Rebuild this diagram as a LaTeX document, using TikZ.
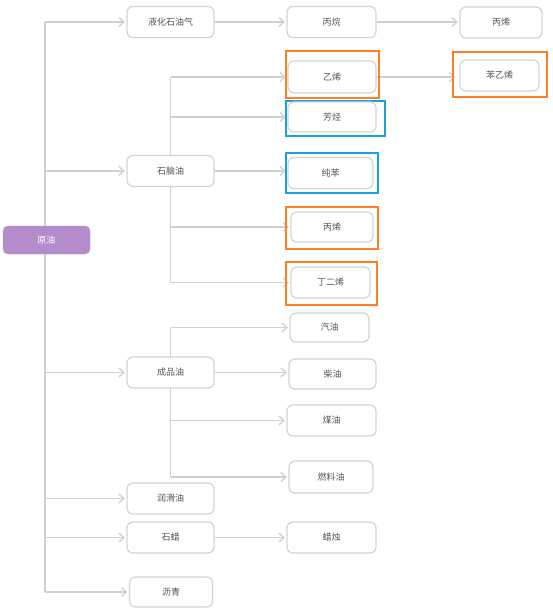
\documentclass[tikz,border=0pt]{standalone}
\usepackage{fontspec}
\newfontfamily\cjk{Noto Sans CJK SC}
\usetikzlibrary{arrows.meta}
\pgfdeclarelayer{bg}
\pgfsetlayers{bg,main}
\definecolor{boxgray}{HTML}{D4D4D4}
\definecolor{linegray}{HTML}{D0D0D0}
\definecolor{txtgray}{HTML}{555555}
\definecolor{oilpurple}{HTML}{B48BCB}
\definecolor{frameorange}{HTML}{FF7F27}
\definecolor{frameblue}{HTML}{1BA1E2}
\tikzset{
  box/.style={draw=boxgray, line width=1.2pt, rounded corners=6pt, fill=white,
    text=txtgray, font=\cjk\fontsize{9}{10}\selectfont, inner sep=0pt},
  rootbox/.style={fill=oilpurple, draw=oilpurple, rounded corners=5pt, text=white,
    font=\cjk\fontsize{9}{10}\selectfont, inner sep=0pt},
  frameO/.style={draw=frameorange, line width=2pt, inner sep=0pt},
  frameB/.style={draw=frameblue, line width=2pt, inner sep=0pt},
  trunkline/.style={draw=linegray, line width=2pt},
  branch/.style={draw=linegray, line width=1.3pt},
  arr/.style={draw=linegray, line width=1.3pt,
    -{Straight Barb[length=5pt,width=9pt]}, shorten >=1.5pt},
}
\begin{document}
\begin{tikzpicture}[x=1pt,y=-1pt]
\useasboundingbox (0,0) rectangle (553,611);
% frames
\node[frameO, minimum width=93pt, minimum height=47pt] (fEthylene) at (332.5,74.5) {};
\node[frameB, minimum width=99pt, minimum height=35pt] (fAromatics) at (335.5,118) {};
\node[frameB, minimum width=92pt, minimum height=40pt] (fBenzene) at (332,173) {};
\node[frameO, minimum width=92pt, minimum height=42pt] (fPropylene) at (332,228) {};
\node[frameO, minimum width=91pt, minimum height=43pt] (fButadiene) at (331.5,283.5) {};
\node[frameO, minimum width=94pt, minimum height=45pt] (fStyrene) at (500,74.5) {};
% root
\node[rootbox, minimum width=87pt, minimum height=28pt] (crude) at (46.5,240) {原油};
% level 1
\node[box, minimum width=87pt, minimum height=31pt] (lpg) at (170.5,22) {液化石油气};
\node[box, minimum width=87pt, minimum height=31pt] (naphtha) at (170.5,171) {石脑油};
\node[box, minimum width=87pt, minimum height=31pt] (product) at (170.5,372.5) {成品油};
\node[box, minimum width=87pt, minimum height=31pt] (lube) at (170.5,498.5) {润滑油};
\node[box, minimum width=87pt, minimum height=31pt] (wax) at (170.5,537.5) {石蜡};
\node[box, minimum width=83pt, minimum height=30pt] (asphalt) at (171,592) {沥青};
% level 2
\node[box, minimum width=89pt, minimum height=31pt] (propane) at (331.5,22) {丙烷};
\node[box, minimum width=88pt, minimum height=32pt] (ethylene) at (332,77) {乙烯};
\node[box, minimum width=88pt, minimum height=30pt] (aromatics) at (332,117) {芳烃};
\node[box, minimum width=85pt, minimum height=31pt] (benzene) at (330.5,173) {纯苯};
\node[box, minimum width=82pt, minimum height=30pt] (propylene) at (332,227) {丙烯};
\node[box, minimum width=79pt, minimum height=31pt] (butadiene) at (330.5,282.5) {丁二烯};
\node[box, minimum width=79pt, minimum height=29pt] (gasoline) at (329.5,327.5) {汽油};
\node[box, minimum width=87pt, minimum height=30pt] (diesel) at (332.5,374) {柴油};
\node[box, minimum width=89pt, minimum height=31pt] (kerosene) at (331.5,420.5) {煤油};
\node[box, minimum width=84pt, minimum height=32pt] (fueloil) at (331,477) {燃料油};
\node[box, minimum width=89pt, minimum height=31pt] (candle) at (331.5,537.5) {蜡烛};
% level 3
\node[box, minimum width=82pt, minimum height=31pt] (propyleneB) at (501,22.5) {丙烯};
\node[box, minimum width=79pt, minimum height=31pt] (styrene) at (499.5,75.5) {苯乙烯};
% coordinates
\coordinate (tTop) at (45,22);
\coordinate (tBot) at (45,592);
\begin{pgfonlayer}{bg}
\fill[white] (0,0) rectangle (553,611);
\draw[trunkline] (tTop) -- (tBot);
\draw[arr] (tTop) -- (lpg.west);
\draw[arr] (tTop |- naphtha.west) -- (naphtha.west);
\draw[arr] (tTop |- product.west) -- (product.west);
\draw[arr] (tTop |- lube.west) -- (lube.west);
\draw[arr] (tTop |- wax.west) -- (wax.west);
\draw[arr] (tBot) -- (asphalt.west);
% LPG chain
\draw[arr] (lpg.east) -- (propane.west);
\draw[arr] (propane.east) -- (propane.east -| propyleneB.west);
% naphtha
\draw[branch] (naphtha.center |- ethylene.west) -- (naphtha.center |- butadiene.west);
\draw[arr] (naphtha.center |- ethylene.west) -- (ethylene.west);
\draw[arr] (naphtha.center |- aromatics.west) -- (aromatics.west);
\draw[arr] (naphtha.east) -- (naphtha.east -| benzene.west);
\draw[arr] (naphtha.center |- propylene.west) -- (propylene.west);
\draw[arr] (naphtha.center |- butadiene.west) -- (butadiene.west);
\draw[arr, shorten >=4pt] (ethylene.east) -- (ethylene.east -| styrene.west);
% products
\draw[branch] (product.center |- gasoline.west) -- (product.center |- fueloil.west);
\draw[arr] (product.center |- gasoline.west) -- (gasoline.west);
\draw[arr] (product.east) -- (product.east -| diesel.west);
\draw[arr] (product.center |- kerosene.west) -- (kerosene.west);
\draw[arr] (product.center |- fueloil.west) -- (fueloil.west);
% wax
\draw[arr] (wax.east) -- (candle.west);
\end{pgfonlayer}
\end{tikzpicture}
\end{document}
